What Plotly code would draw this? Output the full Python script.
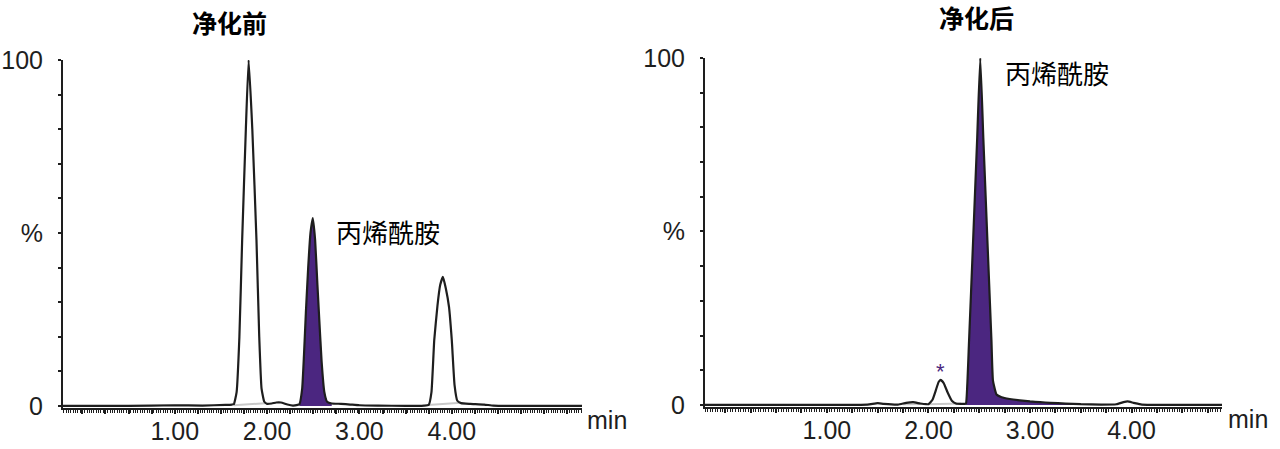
import plotly.graph_objects as go

# ---------------- data ----------------
# Left panel: before clean-up (净化前)
left_base1_t = [-0.21, 0.5, 1.0, 1.3, 1.55, 1.62]
left_base1_y = [0.0, 0.0, 0.2, 0.1, 0.3, 0.4]
left_pk1_t = [1.64, 1.67, 1.70, 1.73, 1.77, 1.80, 1.84, 1.885, 1.915, 1.94, 1.97, 2.00]
left_pk1_y = [0.5, 4, 20, 48, 80, 100, 80, 48, 20, 5, 1.2, 0.6]
left_mid_t = [2.05, 2.10, 2.15, 2.22, 2.28, 2.33]
left_mid_y = [0.7, 1.0, 1.0, 0.4, 0.1, 0.3]
left_acr_t = [2.35, 2.38, 2.40, 2.42, 2.445, 2.47, 2.495, 2.52, 2.545, 2.565, 2.59, 2.62, 2.65, 2.70]
left_acr_y = [0.5, 5, 15, 27, 40, 50, 54.3, 48, 35, 25, 13, 4, 1.2, 0.7]
left_tail_t = [2.8, 2.9, 3.0, 3.2, 3.5, 3.7]
left_tail_y = [0.6, 0.4, 0.2, 0.1, 0.0, 0.1]
left_pk3_t = [3.75, 3.78, 3.81, 3.845, 3.875, 3.904, 3.935, 3.97, 4.00, 4.03, 4.06, 4.10]
left_pk3_y = [0.3, 4, 19, 29, 35, 37.3, 34, 28.6, 19, 6, 1.5, 0.8]
left_end_t = [4.2, 4.35, 4.45, 4.6, 5.41]
left_end_y = [0.6, 0.4, 0.1, 0.0, 0.0]
left_grey = [([1.64, 1.98], [0.2, 0.8]), ([3.74, 4.10], [0.3, 0.9])]

# Right panel: after clean-up (净化后)
right_base_t = [-0.2, 1.0, 1.4, 1.5, 1.56, 1.7, 1.78, 1.85, 1.92, 1.98]
right_base_y = [0.0, 0.0, 0.1, 0.5, 0.3, 0.1, 0.6, 0.8, 0.4, 0.2]
right_star_t = [2.0, 2.04, 2.07, 2.10, 2.12, 2.15, 2.19, 2.23, 2.27, 2.32, 2.36]
right_star_y = [0.2, 1.5, 4, 6.6, 7.2, 6.3, 3.5, 1.2, 0.4, 0.3, 0.3]
right_acr_t = [2.37, 2.40, 2.44, 2.48, 2.51, 2.54, 2.58, 2.62, 2.635, 2.67, 2.72, 2.8, 2.9,
               3.0, 3.1, 3.2, 3.35, 3.5]
right_acr_y = [0.5, 18.7, 47.6, 77, 100, 77, 47.6, 18.7, 7, 3, 2.2, 1.7, 1.3,
               1.0, 0.8, 0.6, 0.4, 0.2]
right_end_t = [3.7, 3.85, 3.92, 3.96, 4.02, 4.1, 4.3, 4.89]
right_end_y = [0.1, 0.2, 0.8, 1.0, 0.6, 0.1, 0.0, 0.0]
right_grey = [([2.0, 2.32], [0.2, 0.4]), ([1.75, 1.93], [0.2, 0.3])]

x_label_vals = [1, 2, 3, 4]
x_label_text = ["1.00", "2.00", "3.00", "4.00"]
y_tick_vals = [0, 10, 20, 30, 40, 50, 60, 70, 80, 90, 100]
y_tick_text = ["0", "", "", "", "", "%", "", "", "", "", "100"]
titles = ["净化前", "净化后"]
peak_name = "丙烯酰胺"

PURPLE = "#4b2680"
INK = "#1e1e1e"
W, H = 1280, 449

fig = go.Figure()


def add_panel(xa, ya, segs, acr_t, acr_y, greys):
    t, y = [], []
    for st, sy in segs:
        t += st
        y += sy
    fig.add_trace(go.Scatter(x=acr_t, y=acr_y, xaxis=xa, yaxis=ya, mode="lines",
                             fill="tozeroy", fillcolor=PURPLE,
                             line=dict(width=0, color=PURPLE), hoverinfo="skip"))
    for gt, gy in greys:
        fig.add_trace(go.Scatter(x=gt, y=gy, xaxis=xa, yaxis=ya, mode="lines",
                                 line=dict(width=2, color="#c8c8c8"), hoverinfo="skip"))
    fig.add_trace(go.Scatter(x=t, y=y, xaxis=xa, yaxis=ya, mode="lines",
                             line=dict(width=2.2, color=INK, shape="spline", smoothing=0.4)))


add_panel("x", "y",
          [(left_base1_t, left_base1_y), (left_pk1_t, left_pk1_y), (left_mid_t, left_mid_y),
           (left_acr_t, left_acr_y), (left_tail_t, left_tail_y), (left_pk3_t, left_pk3_y),
           (left_end_t, left_end_y)],
          left_acr_t, left_acr_y, left_grey)
add_panel("x2", "y2",
          [(right_base_t, right_base_y), (right_star_t, right_star_y),
           (right_acr_t, right_acr_y), (right_end_t, right_end_y)],
          right_acr_t, right_acr_y, right_grey)


def px_x(p):
    return p / W


def px_y(p):
    return 1 - p / H


# major tick positions every 0.25 min, labels only at whole minutes
def major_ticks(lo, hi):
    vals, text = [], []
    k = 0
    while k * 0.25 <= hi:
        v = k * 0.25
        if v >= lo:
            vals.append(v)
            text.append(x_label_text[x_label_vals.index(v)] if v in x_label_vals else "")
        k += 1
    return vals, text


tick_font = dict(family="Liberation Sans, Arial, sans-serif", size=25, color=INK)

panels = [
    dict(x=(63, 582), y=(60, 408), xr=(-0.21, 5.41), ax="xaxis", ay="yaxis"),
    dict(x=(705, 1222), y=(58, 407), xr=(-0.20, 4.89), ax="xaxis2", ay="yaxis2"),
]
for i, p in enumerate(panels):
    tv, tt = major_ticks(p["xr"][0], p["xr"][1])
    anchor_y = "y" if i == 0 else "y2"
    anchor_x = "x" if i == 0 else "x2"
    fig.layout[p["ax"]] = dict(
        domain=[px_x(p["x"][0]), px_x(p["x"][1])], range=list(p["xr"]), anchor=anchor_y,
        showline=True, linewidth=2, linecolor=INK, showgrid=False, zeroline=False,
        ticks="outside", ticklen=4, tickwidth=1.5, tickcolor=INK, automargin=False,
        tickvals=tv, ticktext=tt, tickfont=tick_font, ticklabelstandoff=-4,
        minor=dict(dtick=0.025, ticks="outside", ticklen=3, tickwidth=1, tickcolor=INK,
                   showgrid=False),
    )
    fig.layout[p["ay"]] = dict(
        domain=[px_y(p["y"][1]), px_y(p["y"][0])], range=[-0.6, 100], anchor=anchor_x,
        showline=True, linewidth=2, linecolor=INK, showgrid=False, zeroline=False,
        ticks="outside", ticklen=3, tickwidth=1.5, tickcolor=INK, automargin=False,
        tickvals=y_tick_vals, ticktext=y_tick_text, tickfont=tick_font,
        ticklabelstandoff=10,
    )


def label(text, x, y, size, family, color="#000", xref="paper", yref="paper"):
    return dict(text=text, x=x, y=y, xref=xref, yref=yref, showarrow=False,
                xanchor="center", yanchor="middle",
                font=dict(family=family, size=size, color=color))


annotations = [
    label("<b>%s</b>" % titles[0], px_x(229), px_y(22), 25, "Noto Sans CJK SC"),
    label("<b>%s</b>" % titles[1], px_x(976), px_y(17), 25, "Noto Sans CJK SC"),
    label(peak_name, 3.31, 50.3, 26, "Noto Sans CJK SC", xref="x", yref="y"),
    label(peak_name, 3.27, 95.7, 26, "Noto Sans CJK SC", xref="x2", yref="y2"),
    label("*", 2.12, 9.5, 22, "Liberation Sans", PURPLE, xref="x2", yref="y2"),
    label("min", px_x(607), px_y(420), 25, "Liberation Sans", INK),
    label("min", px_x(1248), px_y(419), 25, "Liberation Sans", INK),
]

fig.update_layout(width=W, height=H, margin=dict(l=0, r=0, t=0, b=0),
                  paper_bgcolor="white", plot_bgcolor="white", showlegend=False,
                  annotations=annotations)

fig.write_html("out.html", config={"displayModeBar": False},
               post_script="document.body.style.margin='0';"
                           "document.body.style.overflow='hidden';")
